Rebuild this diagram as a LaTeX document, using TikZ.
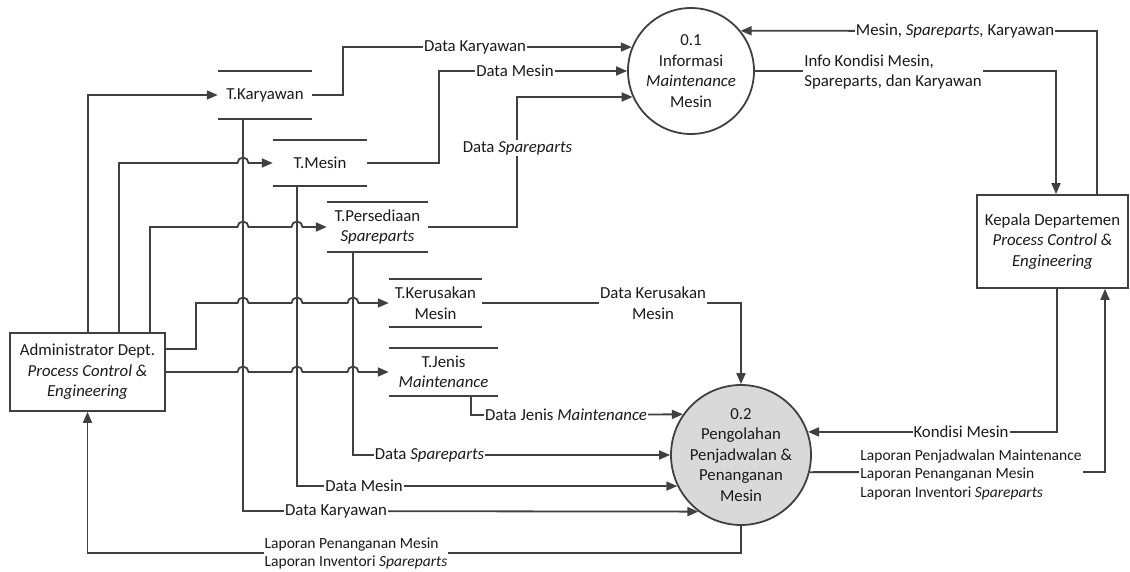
\documentclass[tikz,border=0pt]{standalone}
\usepackage{fontspec}
\setmainfont{Carlito}
\usetikzlibrary{arrows.meta,calc}
\definecolor{ink}{HTML}{404040}
\definecolor{txt}{HTML}{1A1A1A}
\begin{document}
\begin{tikzpicture}[x=1pt,y=-1pt,
  font=\fontsize{16.8}{20.5}\selectfont, text=txt,
  wire/.style={draw=ink,line width=1.8pt},
  flow/.style={wire,-{Triangle[length=11pt,width=9pt]}},
  proc/.style={circle,draw=ink,line width=1.8pt,inner sep=0pt,align=center},
  ent/.style={rectangle,draw=ink,line width=1.8pt,align=center,inner sep=0pt},
  datastore/.style={rectangle,inner sep=0pt,align=center},
  lbl/.style={fill=white,inner sep=1pt,align=center},
  lbll/.style={fill=white,inner sep=1pt,align=left},
  smalltext/.style={font=\fontsize{15.5}{18.5}\selectfont}]

\useasboundingbox (0,0) rectangle (1130,572);

% processes
\node[proc,minimum size=126pt] (p1) at (691,71)
  {0.1\\Informasi\\\textit{Maintenance}\\Mesin};
\node[proc,fill=gray!30,minimum size=140pt] (p2) at (741,455)
  {0.2\\Pengolahan\\Penjadwalan \&\\Penanganan\\Mesin};

% external entities
\node[ent,minimum width=155pt,minimum height=78pt] (adm) at (87.5,372)
  {Administrator Dept.\\\textit{Process Control \&}\\\textit{Engineering}};
\node[ent,minimum width=151pt,minimum height=93pt] (kep) at (1052.5,241.5)
  {Kepala Departemen\\\textit{Process Control \&}\\\textit{Engineering}};

% data stores
\node[datastore,minimum width=94pt,minimum height=47pt] (sk) at (265,95) {T.Karyawan};
\node[datastore,minimum width=94pt,minimum height=46pt] (sm) at (320,163) {T.Mesin};
\node[datastore,minimum width=101pt,minimum height=50pt] (sp) at (377.5,227)
  {T.Persediaan\\\textit{Spareparts}};
\node[datastore,minimum width=93pt,minimum height=47pt] (skr) at (435.5,303)
  {T.Kerusakan\\Mesin};
\node[datastore,minimum width=109pt,minimum height=47pt] (sj) at (443.5,372)
  {T.Jenis\\\textit{Maintenance}};
\foreach \s in {sk,sm,sp,skr,sj}
  \draw[wire] (\s.north west) -- (\s.north east) (\s.south west) -- (\s.south east);

% administrator to data stores (hopping over the vertical flows)
\draw[flow] (88,0 |- adm.north) -- (88,95) -- (sk.west);
\draw[flow] (119,0 |- adm.north) -- (119,163) -- (237.5,163)
  arc[start angle=180,end angle=0,radius=5.5pt] -- (sm.west);
\draw[flow] (150,0 |- adm.north) -- (150,227) -- (237.5,227)
  arc[start angle=180,end angle=0,radius=5.5pt] -- (291.5,227)
  arc[start angle=180,end angle=0,radius=5.5pt] -- (sp.west);
\draw[flow] (adm.east |- 0,349) -- (196,349) -- (196,303) -- (237.5,303)
  arc[start angle=180,end angle=0,radius=5.5pt] -- (291.5,303)
  arc[start angle=180,end angle=0,radius=5.5pt] -- (347.5,303)
  arc[start angle=180,end angle=0,radius=5.5pt] -- (skr.west);
\draw[flow] (adm.east) -- (237.5,372)
  arc[start angle=180,end angle=0,radius=5.5pt] -- (291.5,372)
  arc[start angle=180,end angle=0,radius=5.5pt] -- (347.5,372)
  arc[start angle=180,end angle=0,radius=5.5pt] -- (sj.west);

% data stores to process 0.1
\draw[flow] (sk.east) -- (343,95) -- (343,47) -- (p1.158);
\draw[flow] (sm.east) -- (439,163) -- (439,71) -- (p1.west);
\draw[flow] (sp.east) -- (517,227) -- (517,97) -- (p1.204);

% process 0.1 and the department head
\draw[flow] (1097,0 |- kep.north) -- (1097,31) -- (p1.39);
\draw[flow] (p1.east) -- (1056,71) -- (1056,0 |- kep.north);

% data stores to process 0.2
\draw[flow] (skr.east) -- (741,303) -- (p2.north);
\draw[flow] (471,0 |- sj.south) -- (471,415) -- (p2.145);
\draw[flow] (353,0 |- sp.south) -- (353,455) -- (p2.west);
\draw[flow] (297,0 |- sm.south) -- (297,486) -- (p2.206);
\draw[flow] (243,0 |- sk.south) -- (243,511) -- (p2.233);

% process 0.2 and the entities
\draw[flow] (1057,0 |- kep.south) -- (1057,432) -- (p2.19);
\draw[flow] (p2.346) -- (1105,472) -- (1105,0 |- kep.south);
\draw[flow] (p2.south) -- (741,553) -- (87.5,553) -- (adm.south);

% flow labels
\node[lbl] (l1) at (475,47) {Data Karyawan};
\node[lbl] (l2) at (515,71) {Data Mesin};
\node[lbl] (l3) at (517.5,148) {Data \textit{Spareparts}};
\node[lbl] (l4) at (955,31) {Mesin, \textit{Spareparts,} Karyawan};
\node[lbll] (l5) at (893,72) {Info Kondisi Mesin,\\Spareparts, dan Karyawan};
\node[lbl] (l6) at (653,303) {Data Kerusakan\\Mesin};
\node[lbl] (l7) at (566,415) {Data Jenis \textit{Maintenance}};
\node[lbl] (l8) at (429.5,455) {Data \textit{Spareparts}};
\node[lbl] (l9) at (364,486) {Data Mesin};
\node[lbl] (l10) at (336,511) {Data Karyawan};
\node[lbl] (l11) at (961,432) {Kondisi Mesin};
\node[lbll,smalltext] (l12) at (971,474.5)
  {Laporan Penjadwalan Maintenance\\Laporan Penanganan Mesin\\Laporan Inventori \textit{Spareparts}};
\node[lbll,smalltext] (l13) at (356,553.5)
  {Laporan Penanganan Mesin\\Laporan Inventori \textit{Spareparts}};
\end{tikzpicture}
\end{document}
